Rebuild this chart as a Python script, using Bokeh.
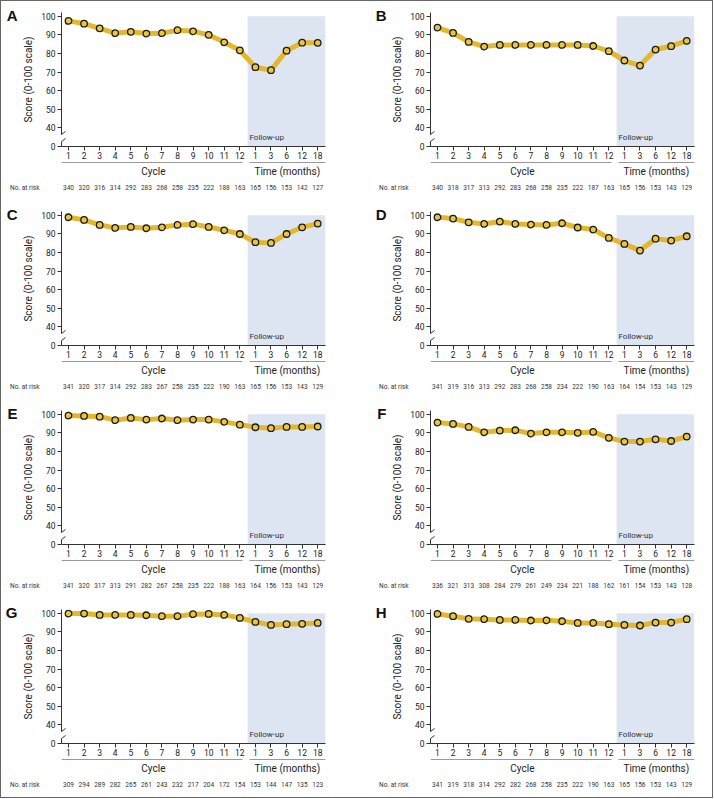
from bokeh.plotting import figure
from bokeh.models import LinearAxis, FixedTicker, Range1d, Label, BoxAnnotation
from bokeh.layouts import column, row
from bokeh.embed import file_html
from bokeh.resources import INLINE
from bokeh.core.properties import value

# ---- data -------------------------------------------------------------
positions = list(range(1, 18))
x_labels = ["1", "2", "3", "4", "5", "6", "7", "8", "9", "10", "11", "12",
            "1", "3", "6", "12", "18"]
y_ticks = [30, 40, 50, 60, 70, 80, 90, 100]
y_tick_labels = ["0", "40", "50", "60", "70", "80", "90", "100"]
group_labels = ["Cycle", "Time (months)"]
group_centers = [6.45, 15.05]
group_starts = [0.55, 12.62]
group_ends = [12.17, 17.5]
risk_title = "No. at risk"

scores_A = [97.5, 96.0, 93.5, 90.9, 91.6, 90.7, 90.9, 92.5, 91.9, 90.0, 86.0, 81.7,
            72.6, 71.0, 81.5, 85.8, 85.7]
scores_B = [93.9, 91.0, 86.2, 83.7, 84.6, 84.6, 84.6, 84.6, 84.6, 84.6, 84.0, 81.2,
            76.2, 73.5, 82.1, 83.9, 86.8]
scores_C = [98.9, 97.5, 94.8, 93.2, 93.7, 93.0, 93.5, 94.8, 95.2, 93.7, 91.9, 89.9,
            85.5, 85.1, 89.9, 93.5, 95.5]
scores_D = [98.9, 98.2, 96.2, 95.3, 96.6, 95.3, 95.0, 94.8, 95.7, 93.4, 92.3, 87.8,
            84.6, 81.0, 87.4, 86.4, 88.7]
scores_E = [99.3, 99.1, 98.7, 96.8, 98.0, 97.1, 97.7, 96.8, 97.1, 97.1, 95.9, 94.4,
            93.0, 92.5, 93.2, 93.2, 93.4]
scores_F = [95.5, 94.8, 93.2, 90.3, 91.2, 91.4, 89.6, 90.3, 90.3, 90.0, 90.5, 87.3,
            85.3, 85.3, 86.5, 85.6, 88.0]
scores_G = [99.8, 99.8, 99.1, 99.1, 99.1, 98.9, 98.4, 98.4, 99.5, 99.6, 99.1, 97.5,
            95.3, 93.7, 94.1, 94.3, 94.8]
scores_H = [99.6, 98.4, 97.0, 96.8, 96.4, 96.4, 96.1, 96.2, 95.7, 94.8, 94.8, 94.1,
            93.7, 93.4, 95.0, 95.0, 96.8]

risk_A = [340, 320, 316, 314, 292, 283, 268, 258, 235, 222, 188, 163, 165, 156, 153, 142, 127]
risk_B = [340, 318, 317, 313, 292, 283, 268, 258, 235, 222, 187, 163, 165, 156, 153, 143, 129]
risk_C = [341, 320, 317, 314, 292, 283, 267, 258, 235, 222, 190, 163, 165, 156, 153, 143, 129]
risk_D = [341, 319, 316, 313, 292, 283, 268, 258, 234, 222, 190, 163, 164, 154, 153, 143, 129]
risk_E = [341, 320, 317, 313, 291, 282, 267, 258, 235, 222, 188, 163, 164, 156, 153, 143, 129]
risk_F = [336, 321, 313, 308, 284, 279, 261, 249, 234, 221, 188, 162, 161, 154, 153, 143, 128]
risk_G = [309, 294, 289, 282, 265, 261, 243, 232, 217, 204, 172, 154, 153, 144, 147, 135, 123]
risk_H = [341, 319, 318, 314, 292, 282, 268, 258, 235, 222, 190, 163, 165, 156, 153, 143, 129]

# ---- style ------------------------------------------------------------
FONT = "Roboto"
BOLD = "'Liberation Sans', Arial, sans-serif"
AX = "#333333"
TXT = "#222222"
LINE_C = "#e3b82f"
FILL_C = "#e9c63c"
SHADE_C = "#dde5f2"

X0, X1 = 0.55, 17.5
Y0, Y1 = 30, 102
LEFT, FRAME_W = 60, 264
TOP, FRAME_H, BOTTOM = 11, 134, 15
ROW_H = 199
STRIP_H = ROW_H - (TOP + FRAME_H + BOTTOM)
PPU = FRAME_W / (X1 - X0)          # pixels per x unit
PPY = FRAME_H / (Y1 - Y0)          # pixels per y unit


def base_fig(width, height, y_range, top, bottom):
    p = figure(width=width, height=height, x_range=Range1d(X0, X1), y_range=y_range,
               x_axis_type=None, y_axis_type=None, output_backend="svg",
               toolbar_location=None, min_border_left=LEFT,
               min_border_right=width - LEFT - FRAME_W, min_border_top=top,
               min_border_bottom=bottom)
    p.outline_line_color = None
    p.xgrid.visible = False
    p.ygrid.visible = False
    return p


def make_main(letter, scores, width):
    p = base_fig(width, TOP + FRAME_H + BOTTOM, Range1d(Y0, Y1), TOP, BOTTOM)

    # follow-up shading
    p.add_layout(BoxAnnotation(left=12.5, top=100, fill_color=SHADE_C, fill_alpha=1.0,
                               line_color=None, level="underlay"))

    # y axis (line broken between 0 and 40)
    yax = LinearAxis(ticker=FixedTicker(ticks=y_ticks),
                     major_label_overrides={t: l for t, l in zip(y_ticks, y_tick_labels)},
                     axis_label="Score (0-100 scale)",
                     axis_label_text_font=FONT, axis_label_text_font_size="10px",
                     axis_label_text_font_style="normal", axis_label_text_color=TXT,
                     axis_label_standoff=4,
                     major_label_text_font=FONT, major_label_text_font_size="8.5px",
                     major_label_text_color=TXT, major_label_standoff=2,
                     major_tick_out=4, major_tick_in=0, minor_tick_line_color=None,
                     axis_line_color=AX, major_tick_line_color=AX,
                     axis_line_dash="5 7 400")
    p.add_layout(yax, "left")

    # panel letter, as outermost left axis label
    lax = LinearAxis(ticker=FixedTicker(ticks=[100.5]), major_label_overrides={100.5: letter},
                     major_label_text_font=BOLD, major_label_text_font_size="15px",
                     major_label_text_font_style="bold", major_label_text_color="#111111",
                     major_label_standoff=3, major_tick_out=0, major_tick_in=0,
                     axis_line_color=None, major_tick_line_color=None,
                     minor_tick_line_color=None)
    p.add_layout(lax, "left")

    # x tick axis
    xax = LinearAxis(ticker=FixedTicker(ticks=positions),
                     major_label_overrides={t: l for t, l in zip(positions, x_labels)},
                     major_label_text_font=FONT, major_label_text_font_size="8.5px",
                     major_label_text_color=TXT, major_label_standoff=1,
                     major_tick_out=4, major_tick_in=0, minor_tick_line_color=None,
                     axis_line_color=AX, major_tick_line_color=AX)
    p.add_layout(xax, "below")

    # axis break marks
    bx = 4 / PPU
    by = 3 / PPY
    ys = [Y0 + 5 / PPY, Y0 + 12 / PPY]
    p.segment(x0=[X0 - bx] * 2, y0=[y - by for y in ys], x1=[X0 + bx] * 2,
              y1=[y + by for y in ys], line_color=AX, line_width=1)

    # follow-up label
    p.add_layout(Label(x=12.62, y=34.8, text="Follow-up", text_align="left",
                       text_baseline="middle", text_font=FONT, text_font_size="8px",
                       text_color="#333333"))

    p.line(positions, scores, line_width=5, line_color=LINE_C, line_join="round",
           line_cap="round")
    p.scatter(positions, scores, size=6.5, fill_color=FILL_C, line_color="#1a1a1a",
              line_width=1.3)
    return p


def make_strip(risk, width):
    s = base_fig(width, STRIP_H, Range1d(STRIP_H, 0), 0, 0)
    # "No. at risk" title as a left axis label
    rax = LinearAxis(ticker=FixedTicker(ticks=[26]), major_label_overrides={26: risk_title},
                     major_label_text_font=FONT, major_label_text_font_size="6.5px",
                     major_label_text_color="#333333", major_label_standoff=22,
                     major_tick_out=0, major_tick_in=0, axis_line_color=None,
                     major_tick_line_color=None, minor_tick_line_color=None)
    s.add_layout(rax, "left")
    # group underlines
    s.segment(x0=group_starts, y0=[1, 1], x1=group_ends, y1=[1, 1],
              line_color="#999999", line_width=1)
    # group labels
    s.text(x=group_centers, y=[10, 10], text=group_labels, text_align="center",
           text_baseline="middle", text_font=value(FONT), text_font_size="10px",
           text_color=TXT)
    # numbers at risk
    s.text(x=positions, y=[26] * len(positions), text=[str(v) for v in risk],
           text_align="center", text_baseline="middle", text_font=value(FONT),
           text_font_size="6.5px", text_color="#333333")
    return s


def make_panel(letter, scores, risk, width):
    return column(make_main(letter, scores, width), make_strip(risk, width))


W_LEFT, W_RIGHT = 369, 342
pA = make_panel("A", scores_A, risk_A, W_LEFT)
pB = make_panel("B", scores_B, risk_B, W_RIGHT)
pC = make_panel("C", scores_C, risk_C, W_LEFT)
pD = make_panel("D", scores_D, risk_D, W_RIGHT)
pE = make_panel("E", scores_E, risk_E, W_LEFT)
pF = make_panel("F", scores_F, risk_F, W_RIGHT)
pG = make_panel("G", scores_G, risk_G, W_LEFT)
pH = make_panel("H", scores_H, risk_H, W_RIGHT)

layout = column(row(pA, pB), row(pC, pD), row(pE, pF), row(pG, pH),
                styles={"border": "1px solid #666666"})

open("out.html", "w").write(file_html(layout, INLINE))
